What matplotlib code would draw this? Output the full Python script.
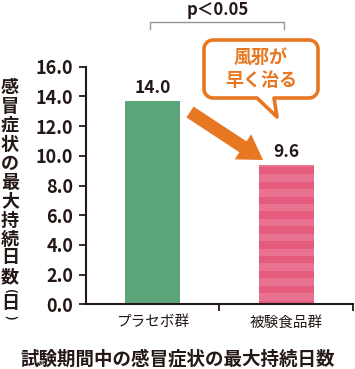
import numpy as np
import matplotlib
matplotlib.use("Agg")
import matplotlib.pyplot as plt
import matplotlib.patches as mpatches
from matplotlib.path import Path
from matplotlib.transforms import Affine2D

plt.rcParams['font.family'] = ['Noto Sans CJK JP', 'DejaVu Sans']

# データ
groups = ['プラセボ群', '被験食品群']
bar_heights = [13.7, 9.4]        # 図上の棒の高さ
value_labels = ['14.0', '9.6']   # 棒の上の数値
yticks = [0, 2, 4, 6, 8, 10, 12, 14, 16]
ylabel_chars = list('感冒症状の最大持続日数')
ylabel_unit = ['(', '日', ')']
xlabel = '試験期間中の感冒症状の最大持続日数'
p_text = 'p＜0.05'
callout_text = '風邪が\n早く治る'

DARK = '#231815'
GREEN = '#5CA57B'
PINK = '#E45B7E'
PINK_LIGHT = '#EA7291'
ORANGE = '#E87722'
GRAY = '#969696'

W, H = 355, 369
fig = plt.figure(figsize=(W / 100, H / 100), dpi=100)
# ピクセル座標 (上から) の変換
px = Affine2D().scale(1 / 100, -1 / 100).translate(0, H / 100) + fig.dpi_scale_trans

ax = fig.add_axes([85.7 / W, 1 - 304.3 / H, (353 - 85.7) / W, (304.3 - 66.7) / H])
x = np.arange(len(groups))
bw = 0.41
ax.bar(x[0], bar_heights[0], width=bw, color=GREEN, zorder=2)
ax.bar(x[1], bar_heights[1], width=bw, color=PINK, zorder=2)
# ピンクの縞
k = 0.25
while k < bar_heights[1]:
    top = min(k + 0.5, bar_heights[1])
    ax.bar(x[1], top - k, bottom=k, width=bw, color=PINK_LIGHT, zorder=2, linewidth=0)
    k += 1.0

for xi, h, lab in zip(x, bar_heights, value_labels):
    ax.annotate(lab, (xi, h), xytext=(0, 3), textcoords='offset points',
                ha='center', va='bottom', fontsize=12.5, fontweight='bold', color=DARK)

ax.set_xlim(-0.5, 1.5)
ax.set_ylim(0, 16)
ax.set_yticks(yticks)
ax.set_yticklabels([f'{v:.1f}' for v in yticks], fontsize=13, fontweight='bold', color=DARK)
ax.set_xticks([0.5, 1.5])
ax.set_xticklabels([])
ax.set_xticks(x, minor=True)
ax.set_xticklabels(groups, minor=True, fontsize=10.5, color=DARK)
ax.tick_params(axis='x', which='minor', length=0, pad=8)
ax.tick_params(axis='x', which='major', length=5, width=1.3, color=DARK)
ax.tick_params(axis='y', length=5, width=1.3, color=DARK, pad=4)
for s in ['top', 'right']:
    ax.spines[s].set_visible(False)
for s in ['left', 'bottom']:
    ax.spines[s].set_linewidth(1.5)
    ax.spines[s].set_color(DARK)

# 縦書きの軸ラベル
for i, ch in enumerate(ylabel_chars):
    fig.text(10, 87 + i * 19.0, ch, transform=px, ha='center', va='center',
             fontsize=13, fontweight='bold', color=DARK)
for ch, yy, rot in zip(ylabel_unit, [291, 304, 317], [-90, 0, -90]):
    fig.text(10, yy, ch, transform=px, ha='center', va='center', rotation=rot,
             fontsize=13 if rot == 0 else 9, fontweight='bold', color=DARK)

fig.text(178, 359, xlabel, transform=px, ha='center', va='center',
         fontsize=13.3, fontweight='bold', color=DARK)

# 有意差ブラケット
fig.add_artist(plt.Line2D([150, 150, 284, 284], [29, 22, 22, 29], transform=px,
                          color=GRAY, lw=1.0))
fig.text(218, 10, p_text, transform=px, ha='center', va='center',
         fontsize=12, fontweight='bold', color=DARK)

# 吹き出し
x0, x1, y0, y1, r = 204, 318, 40, 98, 9
verts = []
def arc(cx, cy, a0, a1):
    t = np.linspace(np.radians(a0), np.radians(a1), 8)
    return [(cx + r * np.cos(tt), cy + r * np.sin(tt)) for tt in t]
verts += arc(x0 + r, y0 + r, 180, 270)
verts += arc(x1 - r, y0 + r, 270, 360)
verts += arc(x1 - r, y1 - r, 0, 90)
verts += [(274, y1), (277, 117), (257, y1)]
verts += arc(x0 + r, y1 - r, 90, 180)
verts.append(verts[0])
codes = [Path.MOVETO] + [Path.LINETO] * (len(verts) - 2) + [Path.CLOSEPOLY]
fig.add_artist(mpatches.PathPatch(Path(verts, codes), transform=px, facecolor='white',
                                  edgecolor=ORANGE, lw=2.6, joinstyle='round'))
fig.text(261, 69, callout_text, transform=px, ha='center', va='center',
         fontsize=13, fontweight='bold', color=ORANGE, linespacing=1.3)

# 矢印
fig.add_artist(mpatches.FancyArrow(190, 112, 73, 48, width=13, head_width=30, head_length=24,
                                   length_includes_head=True, transform=px,
                                   color=ORANGE, lw=0))

fig.savefig('out.png', dpi=100)
